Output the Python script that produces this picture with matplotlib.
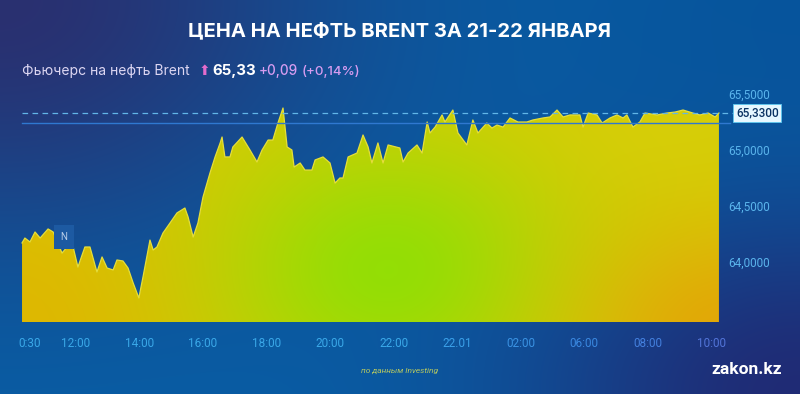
import numpy as np
import matplotlib
matplotlib.use("Agg")
import matplotlib.pyplot as plt

# chart hours after 12:00 on the compressed time axis, and Brent futures price
hours = [-1.70, -1.61, -1.45, -1.29, -1.13, -0.88, -0.72, -0.44, -0.28, -0.09,
         0.06, 0.28, 0.44, 0.66, 0.82, 0.98, 1.17, 1.29, 1.48, 1.64,
         1.80, 1.98, 2.11, 2.33, 2.43, 2.55, 2.74, 2.96, 3.18, 3.43,
         3.53, 3.69, 3.84, 4.00, 4.22, 4.38, 4.54, 4.60, 4.69, 4.85,
         4.94, 5.23, 5.48, 5.70, 5.86, 6.05, 6.20, 6.36, 6.52, 6.65,
         6.80, 6.87, 7.06, 7.21, 7.43, 7.53, 7.78, 8.00, 8.16, 8.31,
         8.41, 8.57, 8.85, 9.04, 9.20, 9.32, 9.51, 9.67, 9.83, 10.20,
         10.30, 10.46, 10.74, 10.90, 11.06, 11.15, 11.31, 11.53, 11.62, 11.87,
         12.03, 12.31, 12.50, 12.66, 12.94, 13.10, 13.26, 13.45, 13.67, 13.92,
         14.20, 14.39, 14.71, 14.93, 15.15, 15.34, 15.56, 15.87, 15.97, 16.13,
         16.41, 16.57, 16.82, 17.04, 17.23, 17.35, 17.54, 17.76, 17.92, 18.30,
         18.61, 18.87, 19.12, 19.43, 19.65, 19.91, 20.13, 20.25]
prices = [64.170, 64.214, 64.179, 64.268, 64.214, 64.295, 64.268, 64.080, 64.134, 64.134,
          63.955, 64.134, 64.134, 63.911, 64.045, 63.946, 63.929, 64.018, 64.009, 63.946,
          63.813, 63.679, 63.866, 64.196, 64.107, 64.134, 64.259, 64.348, 64.438, 64.482,
          64.402, 64.223, 64.348, 64.580, 64.795, 64.938, 65.063, 65.116, 64.938, 64.938,
          65.027, 65.116, 65.000, 64.893, 65.000, 65.089, 65.089, 65.241, 65.375, 65.027,
          65.000, 64.848, 64.884, 64.821, 64.821, 64.911, 64.938, 64.884, 64.705, 64.750,
          64.750, 64.938, 64.973, 65.134, 65.027, 64.884, 65.063, 64.884, 65.045, 65.018,
          64.893, 64.973, 65.045, 64.973, 65.250, 65.152, 65.205, 65.313, 65.250, 65.357,
          65.152, 65.045, 65.268, 65.152, 65.241, 65.196, 65.223, 65.205, 65.286, 65.250,
          65.250, 65.268, 65.286, 65.295, 65.357, 65.295, 65.313, 65.313, 65.205, 65.330,
          65.313, 65.241, 65.286, 65.313, 65.286, 65.313, 65.205, 65.250, 65.330, 65.313,
          65.330, 65.339, 65.357, 65.330, 65.313, 65.330, 65.295, 65.330]

tick_pos = [-1.45, 0, 2, 4, 6, 8, 10, 12, 14, 16, 18, 20]
tick_labels = ["0:30", "12:00", "14:00", "16:00", "18:00", "20:00", "22:00",
               "22.01", "02:00", "06:00", "08:00", "10:00"]
y_ticks = [64.0, 64.5, 65.0, 65.5]
last_price = 65.33
prev_close = 65.24
news_h, news_price = -0.38, 64.223

W, H = 800, 394
fig = plt.figure(figsize=(8, 3.94), dpi=100)


def blend(c, col, w):
    return c * (1 - w[..., None]) + np.array(col)[None, None, :] * w[..., None]


# background gradient
yy, xx = np.mgrid[0:H, 0:W].astype(float)
bg_img = np.ones((H, W, 3)) * np.array([0.03, 0.37, 0.65])
bg_img = blend(bg_img, [0.17, 0.18, 0.43], 0.95 * np.exp(-((xx / 330) ** 2 + (yy / 240) ** 2)))
bg_img = blend(bg_img, [0.13, 0.16, 0.45], 0.95 * np.exp(-(((W - xx) / 280) ** 2 + ((H - yy) / 200) ** 2)))
bg_img = blend(bg_img, [0.02, 0.30, 0.58], 0.5 * np.exp(-(((W - xx) / 250) ** 2 + (yy / 150) ** 2)))
bg = fig.add_axes([0, 0, 1, 1])
bg.imshow(bg_img, extent=[0, W, H, 0], aspect="auto", zorder=0)
bg.set_xlim(0, W)
bg.set_ylim(H, 0)
bg.axis("off")

# plot axes positioned in pixels
px_l, px_r, px_t, px_b = 16, 724, 85, 322
ax = fig.add_axes([px_l / W, 1 - px_b / H, (px_r - px_l) / W, (px_b - px_t) / H])
ax.set_facecolor("none")
x0, x1 = (px_l - 76) / 31.75, (px_r - 76) / 31.75
y0, y1 = 65 - (px_b - 150) / 112, 65 - (px_t - 150) / 112
ax.set_xlim(x0, x1)
ax.set_ylim(y0, y1)
for s in ax.spines.values():
    s.set_visible(False)

# gradient fill under the curve
gy, gx = np.mgrid[px_t:px_b, px_l:px_r].astype(float)
fill_img = np.ones(gx.shape + (3,)) * np.array([0.84, 0.80, 0.02])
fill_img = blend(fill_img, [0.88, 0.70, 0.0], 0.8 * np.exp(-(((gx - 20) / 200) ** 2 + ((gy - 330) / 170) ** 2)))
fill_img = blend(fill_img, [0.55, 0.88, 0.02], 0.9 * np.exp(-(((gx - 390) / 170) ** 2 + ((gy - 270) / 130) ** 2)))
fill_img = blend(fill_img, [0.90, 0.62, 0.03], 0.8 * np.exp(-(((gx - 730) / 150) ** 2 + ((gy - 335) / 110) ** 2)))
fill_img = blend(fill_img, [0.85, 0.82, 0.05], 0.4 * np.exp(-(((gx - 680) / 120) ** 2 + ((gy - 120) / 60) ** 2)))
poly = ax.fill_between(hours, prices, y0, color="none", lw=0)
im = ax.imshow(fill_img, extent=[x0, x1, y0, y1], aspect="auto", zorder=2, origin="upper")
im.set_clip_path(poly.get_paths()[0], transform=ax.transData)
ax.plot(hours, prices, color="#e6de3a", lw=0.9, zorder=3)

# reference lines
ax.plot([hours[0], x1 + 0.28], [last_price] * 2, color="#62b6e8", lw=0.9,
        ls=(0, (4.5, 3.5)), clip_on=False, zorder=4)
ax.plot([hours[0], x1 + 0.2], [prev_close] * 2, color="#2f78d0", lw=1.0,
        clip_on=False, zorder=4)

# axis ticks
ax.set_xticks(tick_pos)
ax.set_xticklabels(tick_labels)
label_colors = ["#3aa8e8"] * 7 + ["#3aa0e8", "#3a92e2", "#3a88e0", "#4480de", "#5274d8"]
for lab, c in zip(ax.get_xticklabels(), label_colors):
    lab.set_color(c)
    lab.set_fontfamily("Roboto")
    lab.set_fontsize(8.5)
ax.tick_params(axis="x", length=0, pad=11)
ax.yaxis.tick_right()
ax.set_yticks(y_ticks)
ax.set_yticklabels([f"{v:.4f}".replace(".", ",") for v in y_ticks])
ax.tick_params(axis="y", length=0, pad=3, labelcolor="#5ab4ec", labelsize=8.5)
for lab in ax.get_yticklabels():
    lab.set_fontfamily("Roboto")

ax.text(1.0 + 12 / (px_r - px_l), last_price, f"{last_price:.4f}".replace(".", ","),
        transform=ax.get_yaxis_transform(),
        ha="left", va="center", fontsize=8.5, family="Roboto",
        fontweight="medium", color="#0a3262", zorder=5,
        bbox=dict(boxstyle="square,pad=0.22", fc="#e6f7ff", ec="#5cc8f0", lw=0.6))

# news marker
ax.text(news_h, news_price, "N", ha="center", va="center", fontsize=7, color="#b8cde8",
        family="Roboto", zorder=5,
        bbox=dict(boxstyle="square,pad=0.7", fc="#1d5aa2", ec="none"))

# titles and captions
fig.text(0.5, 1 - 31 / H, "ЦЕНА НА НЕФТЬ BRENT ЗА 21-22 ЯНВАРЯ", ha="center", va="center",
         color="white", fontsize=14.5, fontweight="bold", family="Inter")
fig.text(22 / W, 1 - 71 / H, "Фьючерс на нефть Brent", ha="left", va="center",
         color="#dcd6f2", fontsize=10, family="Inter")
fig.text(199 / W, 1 - 71 / H, "⬆", ha="left", va="center", color="#e36ccc",
         fontsize=10, family="DejaVu Sans")
fig.text(212 / W, 1 - 71 / H, "65,33", ha="left", va="center", color="white",
         fontsize=10.8, fontweight="bold", family="Inter")
fig.text(259 / W, 1 - 71 / H, "+0,09", ha="left", va="center", color="#d69cf0",
         fontsize=9.8, fontweight="medium", family="Inter")
fig.text(302 / W, 1 - 71 / H, "(+0,14%)", ha="left", va="center", color="#d69cf0",
         fontsize=9.6, fontweight="medium", family="Inter")
fig.text(0.5, 1 - 371 / H, "по данным Investing", ha="center", va="center",
         color="#b6c860", fontsize=6, style="italic", family="Roboto")
fig.text(747 / W, 1 - 370 / H, "zakon.kz", ha="center", va="center", color="white",
         fontsize=12.5, fontweight="bold", family="Roboto")

fig.savefig("out.png", dpi=100)
